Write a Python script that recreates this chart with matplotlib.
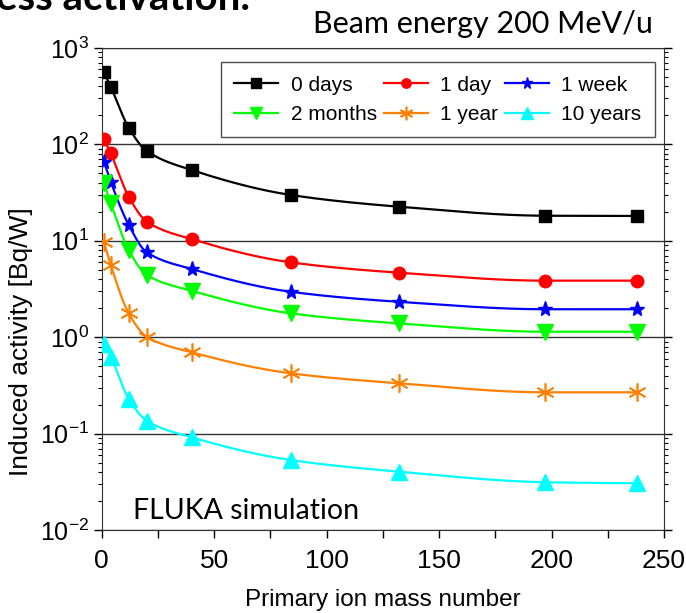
import numpy as np
import matplotlib.pyplot as plt
from matplotlib.ticker import LogLocator, MultipleLocator, NullFormatter, FuncFormatter

plt.rcParams["mathtext.fontset"] = "custom"
plt.rcParams["mathtext.rm"] = "Liberation Sans"
plt.rcParams["mathtext.it"] = "Liberation Sans"

# masa de los iones primarios (p, He, C, Ne, Ar, Kr, Xe, Au, U)
mass = [1, 4, 12, 20, 40, 84, 132, 197, 238]

days0 = [560, 397, 149, 85.5, 54.2, 29.9, 22.6, 18.2, 18.1]
day1 = [114, 80.9, 28.7, 15.8, 10.4, 5.98, 4.67, 3.86, 3.86]
week1 = [66.2, 41, 14.6, 7.6, 5.1, 2.96, 2.33, 1.95, 1.95]
months2 = [39.5, 24.5, 8.03, 4.42, 3.03, 1.77, 1.39, 1.14, 1.14]
year1 = [9.64, 5.61, 1.77, 1.01, 0.697, 0.422, 0.333, 0.268, 0.268]
years10 = [0.843, 0.628, 0.229, 0.136, 0.0914, 0.0532, 0.0403, 0.0313, 0.0305]

labels = ["0 days", "1 day", "1 week", "2 months", "1 year", "10 years"]
series = [days0, day1, week1, months2, year1, years10]
colors = ["black", "#ff0000", "#0000ff", "#00ff00", "#ff8000", "#00ffff"]
markers = ["s", "o", "*", "v", (6, 2, 0), "^"]
sizes = [9, 9, 11, 11, 13, 11]
font = "Liberation Sans"


def pchip(x, y, xs):
    # curva suave monotona (Fritsch-Carlson) para dibujar la linea
    x = np.asarray(x, float)
    y = np.asarray(y, float)
    h = np.diff(x)
    d = np.diff(y) / h
    m = np.zeros_like(y)
    m[0], m[-1] = d[0], d[-1]
    for k in range(1, len(x) - 1):
        if d[k - 1] * d[k] > 0:
            w1 = 2 * h[k] + h[k - 1]
            w2 = h[k] + 2 * h[k - 1]
            m[k] = (w1 + w2) / (w1 / d[k - 1] + w2 / d[k])
    i = np.clip(np.searchsorted(x, xs) - 1, 0, len(x) - 2)
    t = (xs - x[i]) / h[i]
    h00 = 2 * t**3 - 3 * t**2 + 1
    h10 = t**3 - 2 * t**2 + t
    h01 = -2 * t**3 + 3 * t**2
    h11 = t**3 - t**2
    return h00 * y[i] + h10 * h[i] * m[i] + h01 * y[i + 1] + h11 * h[i] * m[i + 1]


fig = plt.figure(figsize=(6.86, 6.13), dpi=100)
ax = fig.add_axes([0.1483, 0.1354, 0.8197, 0.7863])

xs = np.linspace(mass[0], mass[-1], 400)
handles = []
for vals, c, mk, ms, lab in zip(series, colors, markers, sizes, labels):
    ys = 10 ** pchip(mass, np.log10(vals), xs)
    ax.plot(xs, ys, color=c, lw=1.6, zorder=3)
    mew = 1.2 if mk == (6, 2, 0) else 1
    ax.plot(mass, vals, ls="none", marker=mk, color=c, ms=ms, mew=mew, zorder=4)
    h, = ax.plot([], [], color=c, lw=1.6, marker=mk, ms=ms * 0.75, mew=mew, label=lab)
    handles.append(h)

ax.set_yscale("log")
ax.set_ylim(1e-2, 1e3)
ax.set_xlim(0, 250)
ax.xaxis.set_major_locator(MultipleLocator(50))
ax.xaxis.set_minor_locator(MultipleLocator(25))
ax.yaxis.set_major_locator(LogLocator(base=10, numticks=10))
ax.yaxis.set_major_formatter(FuncFormatter(lambda v, p: r"$\mathregular{10^{%d}}$" % round(np.log10(v))))
ax.yaxis.set_minor_locator(LogLocator(base=10, subs=np.arange(2, 10), numticks=10))
ax.yaxis.set_minor_formatter(NullFormatter())
ax.grid(True, axis="y", which="major", color="#333333", lw=1)

ax.tick_params(axis="x", which="both", direction="out", length=6, width=1, labelsize=19, pad=8)
ax.tick_params(axis="y", which="major", direction="out", length=6, width=1, labelsize=18,
               right=True, pad=3)
ax.tick_params(axis="y", which="minor", direction="out", length=3, width=0.8, right=True)
for lab in ax.get_xticklabels() + ax.get_yticklabels():
    lab.set_family(font)
for sp in ax.spines.values():
    sp.set_color("#333333")

ax.set_xlabel("Primary ion mass number", family=font, fontsize=17.5, labelpad=11)
ax.set_ylabel("Induced activity [Bq/W]", family=font, fontsize=19)
ax.yaxis.set_label_coords(-0.122, 0.39)

order = [0, 3, 1, 4, 2, 5]
leg = ax.legend([handles[i] for i in order], [labels[i] for i in order], ncol=3,
                loc="upper left", bbox_to_anchor=(0.212, 0.817, 0.772, 0.154), mode="expand",
                prop={"family": font, "size": 15}, frameon=True, fancybox=False,
                handlelength=2.1, handletextpad=0.6, columnspacing=1.0,
                labelspacing=0.5, borderpad=0.65, borderaxespad=0)
leg.get_frame().set_edgecolor("#222222")
leg.get_frame().set_linewidth(1)

fig.text(0.456, 0.946, "Beam energy 200 MeV/u", family="Lato", fontsize=22, va="baseline")
ax.text(0.056, 0.023, "FLUKA simulation", transform=ax.transAxes, family="Lato",
        fontsize=20.5, va="baseline")
fig.text(-0.006, 0.984, "ess activation.", family="Lato", fontsize=29, weight="bold",
         va="baseline")

fig.savefig("out.png", dpi=100)
